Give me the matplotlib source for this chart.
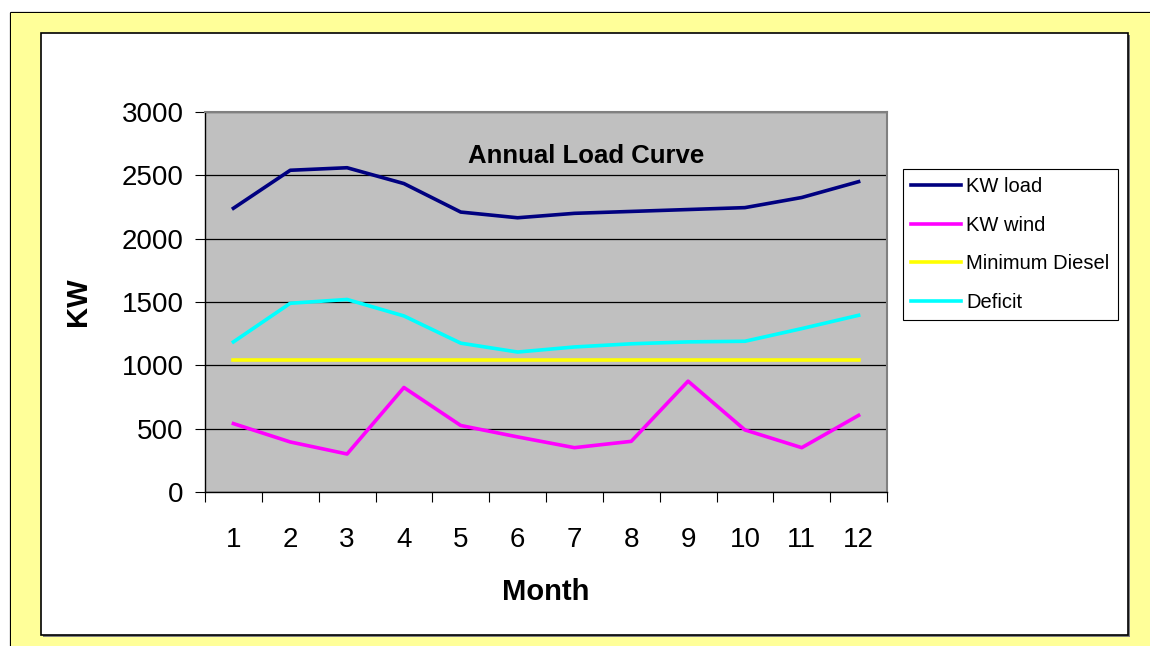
import matplotlib.pyplot as plt
from matplotlib.patches import Rectangle
from matplotlib.lines import Line2D

plt.rcParams['font.family'] = ['Liberation Sans', 'DejaVu Sans']

# data
months = [1, 2, 3, 4, 5, 6, 7, 8, 9, 10, 11, 12]
kw_load = [2240, 2540, 2560, 2435, 2210, 2165, 2200, 2215, 2230, 2245, 2325, 2450]
kw_wind = [540, 395, 300, 825, 525, 435, 350, 400, 875, 490, 350, 605]
min_diesel = [1045, 1045, 1045, 1045, 1045, 1045, 1045, 1045, 1045, 1045, 1045, 1045]
deficit = [1185, 1490, 1520, 1390, 1175, 1105, 1145, 1170, 1185, 1190, 1290, 1395]

W, H = 1150, 646
fig = plt.figure(figsize=(W / 100, H / 100), dpi=100, facecolor='white')

def px(x0, y0, x1, y1):
    # pixel box -> figure fraction (x, y, w, h)
    return (x0 / W, 1 - y1 / H, (x1 - x0) / W, (y1 - y0) / H)

# outer yellow area, black frame only on the top / left edges
x, y, w, h = px(11, 13, W, H)
fig.patches.append(Rectangle((x, y), w, h, transform=fig.transFigure,
                             facecolor='#FFFF99', edgecolor='none', zorder=-10))
fig.lines.append(Line2D([11 / W, 11 / W, 1.0], [0.0, 1 - 13 / H, 1 - 13 / H],
                        transform=fig.transFigure, color='black', lw=1.6,
                        zorder=-10))
# shadow + white chart box
x, y, w, h = px(43, 35, 1130, 637)
fig.patches.append(Rectangle((x, y), w, h, transform=fig.transFigure,
                             facecolor='#808080', edgecolor='none', zorder=-9))
x, y, w, h = px(41, 33, 1128, 635)
fig.patches.append(Rectangle((x, y), w, h, transform=fig.transFigure,
                             facecolor='white', edgecolor='black', lw=1.2,
                             zorder=-8))

ax = fig.add_axes(px(205, 112, 887, 492))
ax.set_facecolor('#C0C0C0')

ax.plot(months, kw_load, color='#000080', lw=2.6, label='KW load')
ax.plot(months, kw_wind, color='#FF00FF', lw=2.6, label='KW wind')
ax.plot(months, min_diesel, color='#FFFF00', lw=2.6, label='Minimum Diesel')
ax.plot(months, deficit, color='#00FFFF', lw=2.6, label='Deficit')

ax.set_xlim(0.5, 12.5)
ax.set_ylim(0, 3000)
ax.set_yticks([0, 500, 1000, 1500, 2000, 2500, 3000])
ax.yaxis.grid(True, color='black', lw=0.9)
ax.set_axisbelow(True)

# category boundaries get the tick marks, labels sit at the centres
ax.set_xticks([m + 0.5 for m in [0] + months])
ax.set_xticklabels([])
ax.set_xticks(months, minor=True)
ax.set_xticklabels([str(m) for m in months], minor=True)
ax.tick_params(axis='x', which='major', direction='out', length=7.5, width=0.8)
ax.tick_params(axis='x', which='minor', length=0, pad=25, labelsize=20)
ax.tick_params(axis='y', direction='out', length=7.5, width=0.8, pad=8, labelsize=20)

for s in ['top', 'right']:
    ax.spines[s].set_color('#808080')
    ax.spines[s].set_linewidth(1.5)
for s in ['left', 'bottom']:
    ax.spines[s].set_color('black')
    ax.spines[s].set_linewidth(1.0)

ax.set_xlabel('Month', fontsize=21, fontweight='bold', labelpad=18)
ax.set_ylabel('KW', fontsize=21, fontweight='bold', labelpad=21)
ax.text(0.5587, 0.885, 'Annual Load Curve', transform=ax.transAxes,
        ha='center', va='center', fontsize=18.5, fontweight='bold')

leg = ax.legend(loc='upper left', bbox_to_anchor=(903 / W, 1 - 169 / H),
                bbox_transform=fig.transFigure, fontsize=14.5, frameon=True,
                fancybox=False, edgecolor='black', framealpha=1,
                borderaxespad=0, borderpad=0.4, handlelength=2.5,
                handletextpad=0.25, labelspacing=0.97)
leg.get_frame().set_linewidth(0.8)

fig.savefig('out.png', dpi=100, facecolor=fig.get_facecolor())
